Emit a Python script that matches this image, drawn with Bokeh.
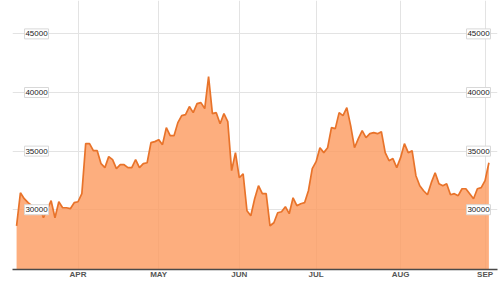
from bokeh.plotting import figure
from bokeh.models import Range1d, FixedTicker
from bokeh.core.properties import value
from bokeh.embed import file_html
from bokeh.resources import INLINE

# session index (0 = first trading day of April)
sessions = [-16, -15, -14, -13, -12, -11, -10, -9, -7, -6, -5, -4, -3, -2, -1,
            0, 1, 2, 3, 4, 5, 6, 7, 8, 9, 10, 11, 12, 13, 14, 15, 16, 17, 18, 19,
            20, 21, 22, 23, 24, 25, 26, 27, 28, 29, 30, 31, 32, 33, 34, 35, 36, 37, 38, 39,
            40, 41, 42, 43, 44, 45, 46, 47, 48, 49, 50, 51, 52, 53, 54, 55, 56, 57, 58, 59,
            60, 61, 62, 63, 64, 65, 66, 67, 68, 69, 70, 71, 72, 73, 74, 75, 76, 77, 78, 79,
            80, 81, 82, 83, 84, 85, 86, 87, 88, 89, 90, 91, 92, 93, 94, 95, 96, 97, 98, 99,
            100, 101, 102, 103, 104, 105, 106, 107]
prices = [28630, 31450, 30940, 30600, 30340, 30170, 30260, 29320, 30770, 29320, 30680, 30170, 30170, 30090, 30600,
          30680, 31370, 35640, 35640, 35040, 35040, 33930, 33590, 34530, 34270, 33500, 33840, 33840, 33590, 33590, 34270, 33590, 33930, 34010, 35720,
          35810, 35980, 35550, 37000, 36320, 36320, 37430, 38030, 38110, 38800, 38280, 39050, 39140, 38630, 41360, 38200, 38280, 37340, 38200, 37520,
          33330, 34870, 32730, 33070, 29910, 29490, 30940, 32050, 31370, 31370, 28630, 28890, 29740, 29830, 30260, 29660, 31020, 30340, 30510, 30600,
          31620, 33500, 34100, 35290, 34870, 35290, 37000, 36920, 38280, 38030, 38710, 37170, 35290, 36060, 36750, 36150, 36490, 36580, 36490, 36660,
          34870, 34180, 34360, 33590, 34440, 35640, 34870, 35040, 32900, 32050, 31620, 31280, 32310, 33160, 32220, 32050, 32220, 31280, 31370, 31200,
          31790, 31790, 31370, 30940, 31790, 31880, 32480, 34010]

month_ticks = [0, 21, 42, 62, 84, 106]
month_labels = ["APR", "MAY", "JUN", "JUL", "AUG", "SEP"]
y_ticks = [30000, 35000, 40000, 45000]
y_labels = ["30000", "35000", "40000", "45000"]

FONT = "Liberation Sans"

p = figure(width=500, height=281, output_backend="svg", toolbar_location=None,
           x_range=Range1d(-17.06, 109.24), y_range=Range1d(24900, 47850),
           min_border_left=12, min_border_right=3, min_border_top=0, min_border_bottom=0)
p.outline_line_color = None
p.background_fill_color = "white"
p.border_fill_color = "white"

# grids
p.yaxis.visible = False
p.ygrid.ticker = FixedTicker(ticks=y_ticks)
p.xgrid.ticker = FixedTicker(ticks=month_ticks)
p.grid.grid_line_color = "#e3e3e3"
p.grid.grid_line_width = 1

# area + line
p.varea(x=sessions, y1=0, y2=prices, fill_color="#FC9C62", fill_alpha=0.82)
p.line(x=sessions, y=prices, line_color="#E8732A", line_width=1.7)

# x axis
xa = p.xaxis[0]
xa.ticker = FixedTicker(ticks=month_ticks)
xa.major_label_overrides = {t: l for t, l in zip(month_ticks, month_labels)}
xa.axis_line_color = "#4a4a4a"
xa.axis_line_width = 1.5
xa.major_tick_line_color = None
xa.minor_tick_line_color = None
xa.major_tick_out = 0
xa.major_tick_in = 0
xa.minor_tick_out = 0
xa.minor_tick_in = 0
xa.major_label_text_font = FONT
xa.major_label_text_font_size = "8px"
xa.major_label_text_font_style = "bold"
xa.major_label_text_color = "#555555"
xa.major_label_standoff = 0

# y tick labels in boxes, left and right
for xpos in (-10.8, 104.3):
    xs = [xpos] * len(y_ticks)
    p.rect(x=xs, y=y_ticks, width=24, height=10, width_units="screen", height_units="screen",
           fill_color="white", line_color="#d8d8d8", line_width=1)
    p.text(x=xs, y=y_ticks, text=y_labels, text_align="center", text_baseline="middle",
           text_font=value(FONT), text_font_size="8px", text_color="#222222")

open("out.html", "w").write(file_html(p, INLINE))
